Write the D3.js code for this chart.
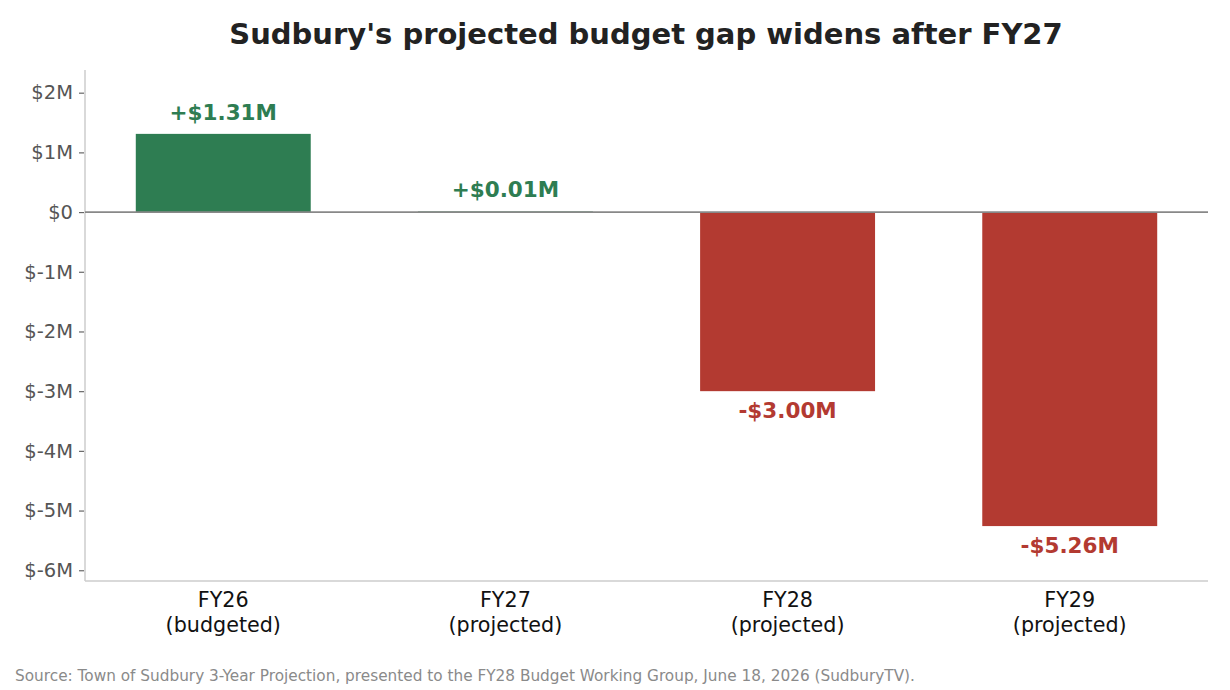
<!DOCTYPE html>
<html><head><meta charset="utf-8">
<script src="https://cdn.jsdelivr.net/npm/d3@7"></script>
<style>body{margin:0;background:#fff;font-family:"DejaVu Sans",sans-serif;} svg text{font-family:"DejaVu Sans",sans-serif;}</style>
</head><body><svg id="c" width="1230" height="690"></svg>
<script>
const categories = ["FY26", "FY27", "FY28", "FY29"];
const subLabels = ["(budgeted)", "(projected)", "(projected)", "(projected)"];
const values = [1.31, 0.01, -3.00, -5.26];
const valueLabels = ["+$1.31M", "+$0.01M", "-$3.00M", "-$5.26M"];
const yTicks = [2, 1, 0, -1, -2, -3, -4, -5, -6];
const yTickLabels = ["$2M", "$1M", "$0", "$-1M", "$-2M", "$-3M", "$-4M", "$-5M", "$-6M"];

const svg = d3.select("#c");
const L = 85, R = 1208, T = 70, B = 581;
const x = d3.scaleLinear().domain([-0.49, 3.49]).range([L, R]);
const y = d3.scaleLinear().domain([-6.18, 2.38]).range([B, T]);
const bw = 0.62;
const green = "#2e7d52", red = "#b33a31";

svg.append("text").attr("x", 646).attr("y", 44).attr("text-anchor", "middle")
  .attr("font-size", 29).attr("font-weight", "bold").attr("fill", "#222")
  .text("Sudbury's projected budget gap widens after FY27");

// bars
svg.selectAll("rect.bar").data(values).enter().append("rect")
  .attr("x", (d, i) => x(i - bw / 2))
  .attr("width", (d, i) => x(i + bw / 2) - x(i - bw / 2))
  .attr("y", d => y(Math.max(0, d)))
  .attr("height", d => Math.abs(y(d) - y(0)))
  .attr("fill", d => d >= 0 ? green : red);

// spines
svg.append("line").attr("x1", L).attr("x2", L).attr("y1", T).attr("y2", B).attr("stroke", "#cccccc").attr("stroke-width", 1.5);
svg.append("line").attr("x1", L).attr("x2", R).attr("y1", B).attr("y2", B).attr("stroke", "#cccccc").attr("stroke-width", 1.5);

// zero line
svg.append("line").attr("x1", L).attr("x2", R).attr("y1", y(0)).attr("y2", y(0)).attr("stroke", "#888").attr("stroke-width", 1.8);

// y axis
const yAxis = d3.axisLeft(y).tickValues(yTicks).tickSize(5).tickPadding(6)
  .tickFormat((d, i) => yTickLabels[i]);
const ga = svg.append("g").attr("transform", `translate(${L - 1},0)`).call(yAxis);
ga.attr("font-family", "DejaVu Sans");
ga.select(".domain").remove();
ga.selectAll(".tick line").attr("stroke", "#666").attr("stroke-width", 1.2);
ga.selectAll(".tick text").attr("fill", "#555").attr("font-size", 19.5);

// x labels
const gx = svg.append("g");
categories.forEach((c, i) => {
  const t = gx.append("text").attr("x", x(i)).attr("y", 607).attr("text-anchor", "middle")
    .attr("font-size", 20.7).attr("fill", "#111");
  t.append("tspan").attr("x", x(i)).text(c);
  t.append("tspan").attr("x", x(i)).attr("dy", 25).text(subLabels[i]);
});

// value labels
svg.selectAll("text.val").data(values).enter().append("text")
  .attr("x", (d, i) => x(i))
  .attr("y", d => d >= 0 ? y(d) - 14 : y(d) + 27)
  .attr("text-anchor", "middle").attr("font-size", 21.5).attr("font-weight", "bold")
  .attr("fill", d => d >= 0 ? green : red)
  .text((d, i) => valueLabels[i]);

svg.append("text").attr("x", 15).attr("y", 681).attr("font-size", 15.3).attr("fill", "#8a8a8a")
  .text("Source: Town of Sudbury 3-Year Projection, presented to the FY28 Budget Working Group, June 18, 2026 (SudburyTV).");
</script></body></html>
